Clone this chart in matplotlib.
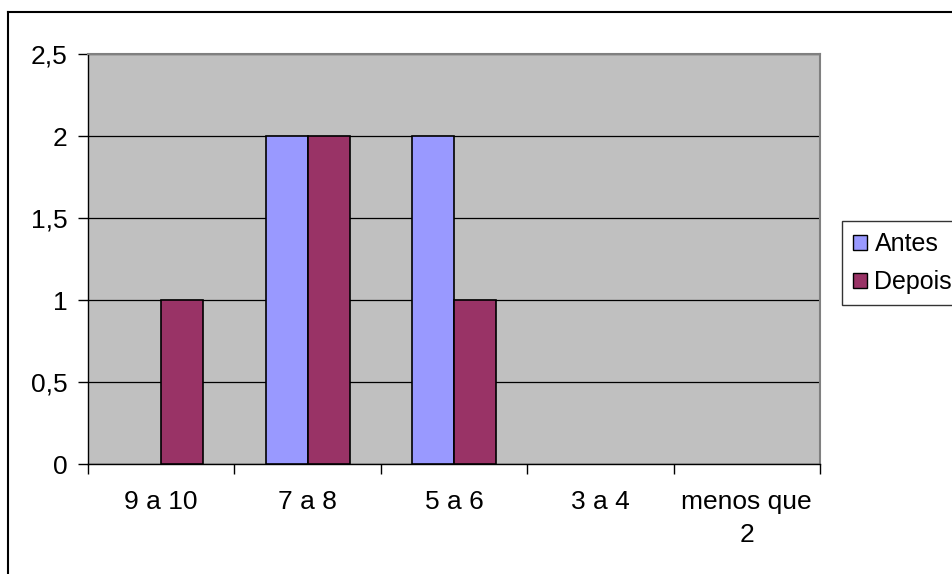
import numpy as np
from matplotlib import pyplot as plt
from matplotlib.lines import Line2D

categories = ["9 a 10", "7 a 8", "5 a 6", "3 a 4", "menos que\n2"]
antes = [0, 2, 2, 0, 0]
depois = [1, 2, 1, 0, 0]
y_ticks = [0, 0.5, 1, 1.5, 2, 2.5]
y_labels = ["0", "0,5", "1", "1,5", "2", "2,5"]

plt.rcParams['font.family'] = ['Liberation Sans', 'DejaVu Sans']
fs = 19

fig = plt.figure(figsize=(9.53, 5.74), dpi=100)
ax = fig.add_axes([88 / 953, 1 - 464 / 574, 732 / 953, 410 / 574])
ax.set_facecolor('#C0C0C0')

x = np.arange(len(categories))
w = 0.287
# empty bars get no outline, as in the reference
ax.bar(x - w / 2, antes, w, color='#9999FF', edgecolor='black',
       linewidth=[1.2 if v else 0 for v in antes], label='Antes', zorder=3)
ax.bar(x + w / 2, depois, w, color='#993366', edgecolor='black',
       linewidth=[1.2 if v else 0 for v in depois], label='Depois', zorder=3)

ax.set_xlim(-0.5, len(categories) - 0.5)
ax.set_ylim(0, 2.5)
ax.set_yticks(y_ticks)
ax.set_yticklabels(y_labels, fontsize=fs)
ax.yaxis.grid(True, color='black', linewidth=0.9, zorder=1)
ax.set_axisbelow(True)

# category ticks on boundaries, labels centred
ax.set_xticks(np.arange(len(categories) + 1) - 0.5)
ax.set_xticklabels([])
ax.set_xticks(x, minor=True)
ax.set_xticklabels(categories, minor=True, fontsize=fs, linespacing=1.45)
ax.tick_params(axis='x', which='minor', length=0, pad=19)
ax.tick_params(axis='x', which='major', length=7, width=1, direction='out')
ax.tick_params(axis='y', length=7, width=1, direction='out', pad=8)

for s in ['top', 'right']:
    ax.spines[s].set_color('#808080')
    ax.spines[s].set_linewidth(1.5)
for s in ['left', 'bottom']:
    ax.spines[s].set_color('black')
    ax.spines[s].set_linewidth(1.0)

leg = ax.legend(loc='upper left', bbox_to_anchor=(842 / 953, 1 - 221 / 574),
                bbox_transform=fig.transFigure, fontsize=18, frameon=True,
                fancybox=False, edgecolor='black', handlelength=0.55,
                handleheight=0.55, handletextpad=0.3, borderpad=0.45,
                labelspacing=0.55, borderaxespad=0)
leg.get_frame().set_linewidth(1.0)
for h in leg.legend_handles:
    h.set_linewidth(1.0)
    h.set_edgecolor('black')

# outer chart border (left and top only visible)
fig.add_artist(Line2D([8.5 / 953, 8.5 / 953], [0, 1 - 12 / 574], color='black', linewidth=1.5))
fig.add_artist(Line2D([8.5 / 953, 1], [1 - 12 / 574, 1 - 12 / 574], color='black', linewidth=1.5))

fig.savefig('out.png', dpi=100)
